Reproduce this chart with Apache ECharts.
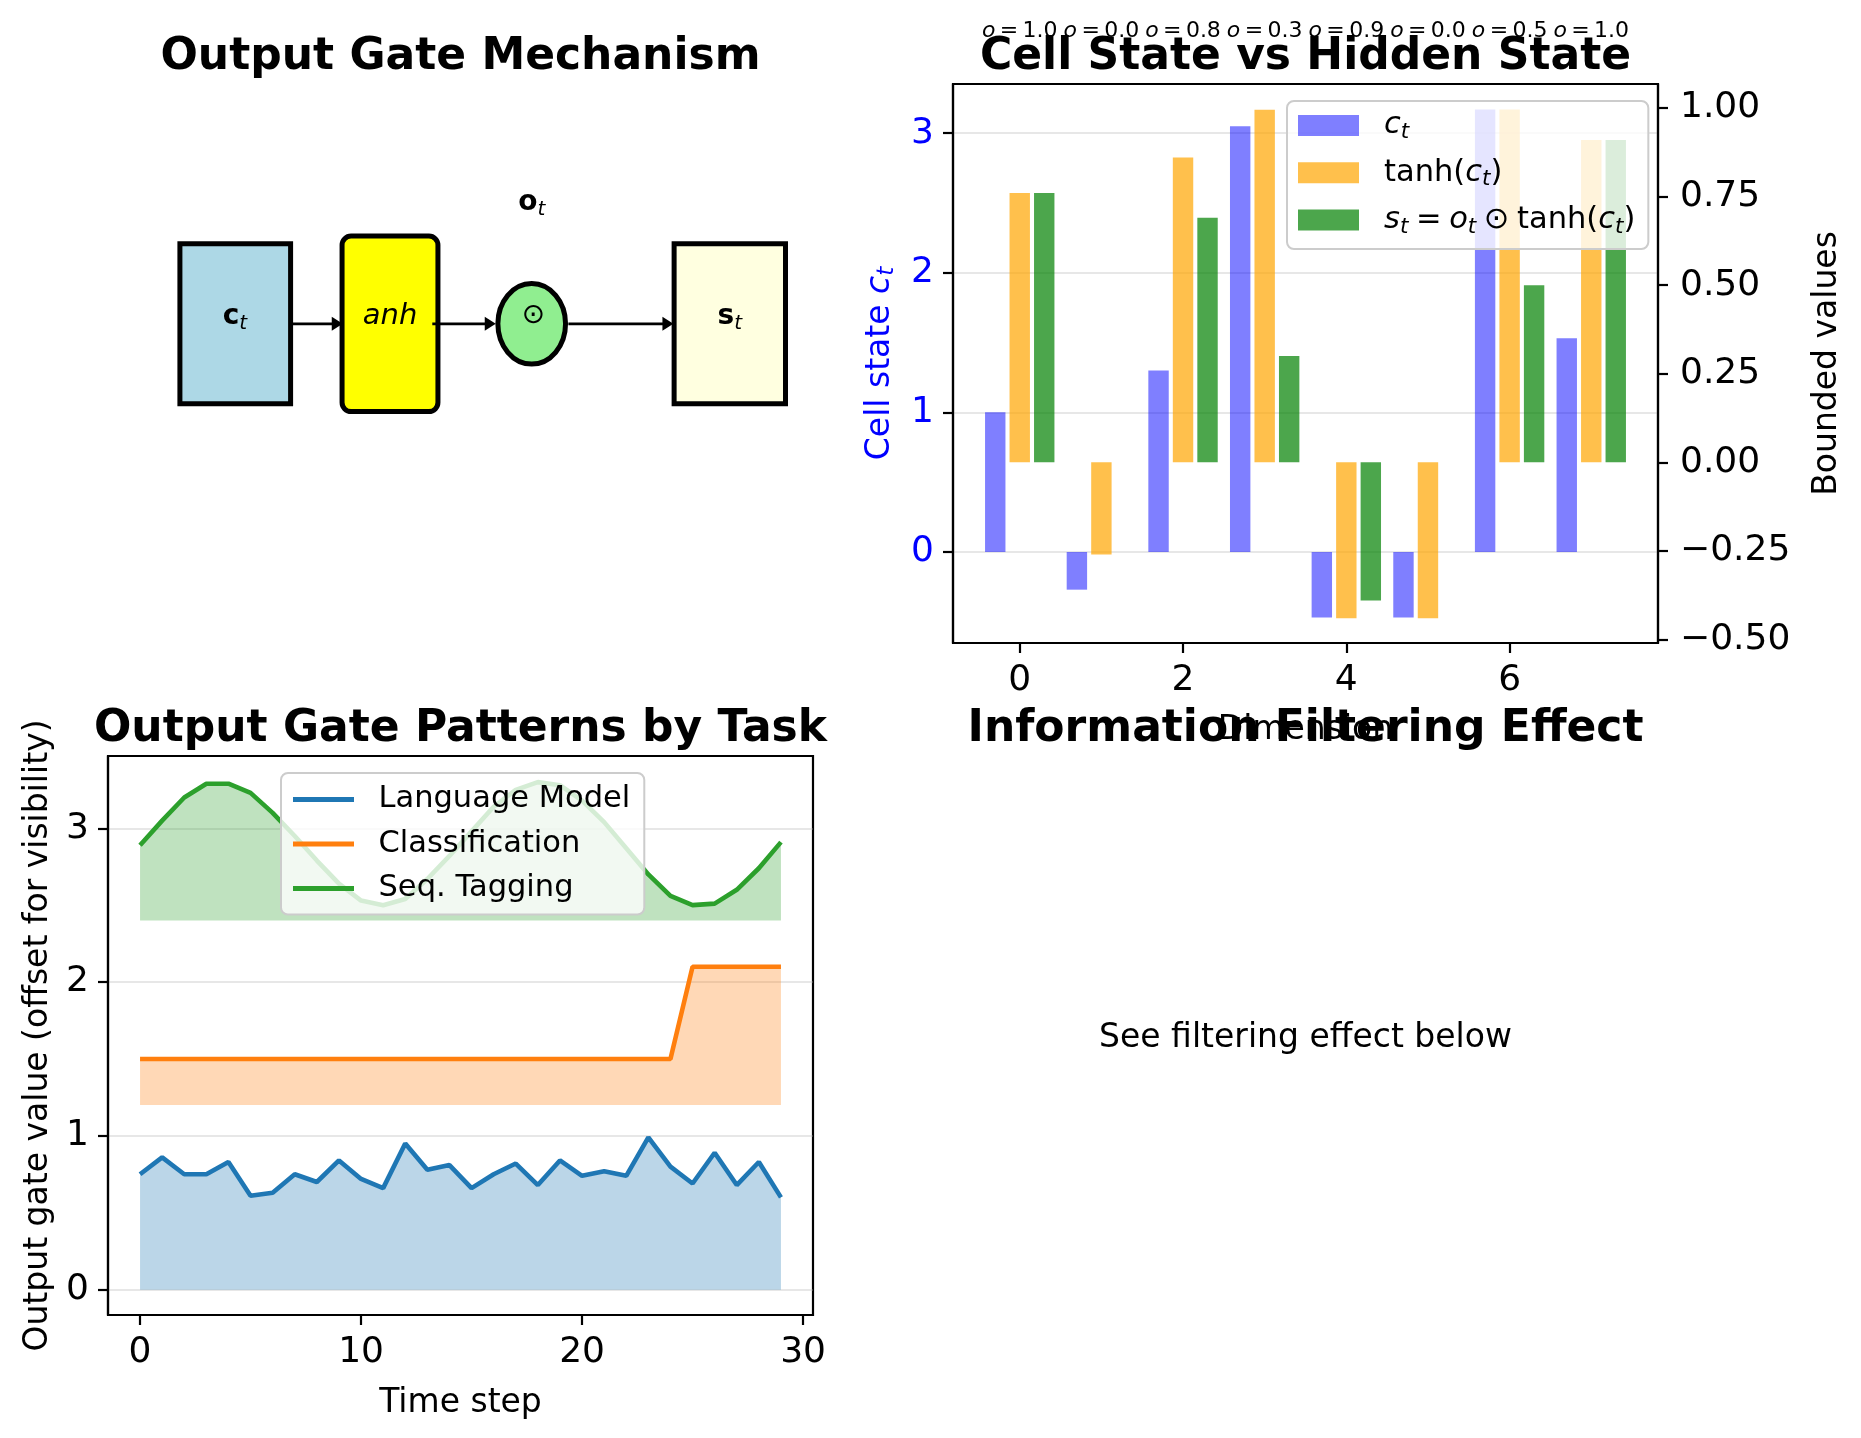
<!DOCTYPE html>
<html>
<head>
<meta charset="utf-8">
<script src="https://cdn.jsdelivr.net/npm/echarts@6/dist/echarts.min.js"></script>
<style>
html,body{margin:0;padding:0;background:#fff;}
#chart{width:1861px;height:1438px;}
</style>
</head>
<body>
<div id="chart"></div>
<script>
// ---------------- data ----------------
const dims = [0, 1, 2, 3, 4, 5, 6, 7];
const cellState = [1.00, -0.27, 1.30, 3.05, -0.47, -0.47, 3.17, 1.53];
const tanhCell = [0.76, -0.26, 0.86, 0.995, -0.44, -0.44, 0.996, 0.91];
const hiddenState = [0.76, 0.00, 0.69, 0.30, -0.39, 0.00, 0.50, 0.91];
const gateValues = [1.0, 0.0, 0.8, 0.3, 0.9, 0.0, 0.5, 1.0];

const timeSteps = [0,1,2,3,4,5,6,7,8,9,10,11,12,13,14,15,16,17,18,19,20,21,22,23,24,25,26,27,28,29];
const languageModel = [0.75,0.86,0.75,0.75,0.83,0.61,0.63,0.75,0.70,0.84,0.72,0.66,0.95,0.78,0.81,0.66,0.75,0.82,0.68,0.84,0.74,0.77,0.74,0.99,0.80,0.69,0.89,0.68,0.83,0.60];
const classification = [1.5,1.5,1.5,1.5,1.5,1.5,1.5,1.5,1.5,1.5,1.5,1.5,1.5,1.5,1.5,1.5,1.5,1.5,1.5,1.5,1.5,1.5,1.5,1.5,1.5,2.1,2.1,2.1,2.1,2.1];
const seqTagging = [2.89,3.05,3.20,3.29,3.29,3.23,3.10,2.95,2.79,2.64,2.53,2.50,2.54,2.67,2.82,2.98,3.14,3.25,3.30,3.28,3.18,3.04,2.87,2.70,2.56,2.50,2.51,2.60,2.74,2.91];
const fillBases = [0, 1.2, 2.4];

const dimTicks = [0, 2, 4, 6];
const cellTicks = [0, 1, 2, 3];
const boundTicks = [-0.5, -0.25, 0, 0.25, 0.5, 0.75, 1.0];
const timeTicks = [0, 10, 20, 30];
const gateTicks = [0, 1, 2, 3];

// ---------------- styling ----------------
const FONT = 'DejaVu Sans';
const GRIDLINE = 'rgba(176,176,176,0.3)';
const BAR_W = 0.25;
const LABEL_Y = 3.73;

function minusFmt(v, d) {
  const s = Math.abs(v).toFixed(d);
  return (v < -1e-9 ? '\u2212' : '') + s;
}

const subRich = (size, lh, sub, sublh, color) => ({
  i: {fontFamily: FONT, fontStyle: 'italic', fontSize: size, lineHeight: lh, color: color},
  s: {fontFamily: FONT, fontStyle: 'italic', fontSize: sub, lineHeight: sublh, verticalAlign: 'bottom', color: color}
});

function axisCommon(ticks, labelColor, fmt, margin) {
  return {
    axisLine: {show: true, onZero: false, lineStyle: {color: '#000', width: 2.2}},
    axisTick: {show: true, customValues: ticks, length: 10, inside: false, lineStyle: {color: '#000', width: 2.2}},
    axisLabel: {show: true, customValues: ticks, color: labelColor, fontSize: 36, fontFamily: FONT, margin: margin,
      formatter: fmt || (v => String(v))},
  };
}

// diagram layout (axes units 0..10 in both directions)
const DIAG = {
  ct: [1.02, 4.28, 2.59, 7.14],
  tanh: [3.32, 4.14, 4.68, 7.28],
  gate: [6.01, 5.71, 0.48, 0.72],
  st: [8.03, 4.28, 9.61, 7.14],
  arrowY: 5.71,
  arrows: [[2.59, 3.33], [4.60, 5.50], [6.53, 8.02]]
};

function renderDiagram(params, api) {
  const P = (x, y) => api.coord([x, y]);
  const box = (b, fill, r) => {
    const p0 = P(b[0], b[3]), p1 = P(b[2], b[1]);
    return {type: 'rect', shape: {x: p0[0], y: p0[1], width: p1[0] - p0[0], height: p1[1] - p0[1], r: r || 0},
      style: {fill: fill, stroke: '#000', lineWidth: 5}};
  };
  const kids = [];
  kids.push(box(DIAG.ct, '#add8e6'));
  kids.push(box(DIAG.tanh, '#ffff00', 9));
  const c = P(DIAG.gate[0], DIAG.gate[1]);
  const e = P(DIAG.gate[0] + DIAG.gate[2], DIAG.gate[1] + DIAG.gate[3]);
  kids.push({type: 'ellipse', shape: {cx: c[0], cy: c[1], rx: e[0] - c[0], ry: c[1] - e[1]},
    style: {fill: '#90ee90', stroke: '#000', lineWidth: 5}});
  kids.push(box(DIAG.st, '#ffffe0'));
  DIAG.arrows.forEach(function (ar) {
    const a = P(ar[0], DIAG.arrowY), b = P(ar[1], DIAG.arrowY);
    kids.push({type: 'line', shape: {x1: a[0], y1: a[1], x2: b[0] - 9, y2: b[1]}, style: {stroke: '#000', lineWidth: 2.8}});
    kids.push({type: 'polygon', shape: {points: [[b[0], b[1]], [b[0] - 11, b[1] - 7], [b[0] - 11, b[1] + 7]]}, style: {fill: '#000'}});
  });
  const rich = {
    b: {fontFamily: FONT, fontWeight: 'bold', fontSize: 28, lineHeight: 34, fill: '#000'},
    s: {fontFamily: FONT, fontStyle: 'italic', fontSize: 20, lineHeight: 17, verticalAlign: 'bottom', fill: '#000'},
    it: {fontFamily: FONT, fontStyle: 'italic', fontSize: 29, lineHeight: 34, fill: '#000'},
    n: {fontFamily: FONT, fontSize: 28, lineHeight: 34, fill: '#000'}
  };
  const txt = (x, y, text) => {
    const p = P(x, y);
    return {type: 'text', x: p[0], y: p[1], style: {text: text, rich: rich, align: 'center', verticalAlign: 'middle',
      fontFamily: FONT, fontSize: 28, fill: '#000'}};
  };
  kids.push(txt(1.80, 5.83, '{b|c}{s|t}'));
  kids.push(txt(4.00, 5.85, '{it|anh}'));
  kids.push(txt(6.03, 5.86, '{n|\u2299}'));
  kids.push(txt(8.82, 5.83, '{b|s}{s|t}'));
  kids.push(txt(6.01, 7.87, '{b|o}{s|t}'));
  return {type: 'group', children: kids};
}

function barRenderer(offset, color) {
  return function (params, api) {
    const x = api.value(0), v = api.value(1);
    const a = api.coord([x + offset - BAR_W / 2, v]);
    const b = api.coord([x + offset + BAR_W / 2, 0]);
    return {type: 'rect', shape: {x: a[0], y: Math.min(a[1], b[1]), width: b[0] - a[0], height: Math.abs(b[1] - a[1])},
      style: {fill: color}};
  };
}

const C_BLUE = 'rgba(0,0,255,0.5)';
const C_ORANGE = 'rgba(255,165,0,0.7)';
const C_GREEN = 'rgba(0,128,0,0.7)';

const SP = '\u2005';
const LEGEND_TR = {
  ct: '{i|c}{s|t}',
  tanh: 'tanh({i|c}{s|t})',
  st: '{i|s}{s|t}' + SP + '=' + SP + '{i|o}{s|t}' + SP + '\u2299' + SP + 'tanh({i|c}{s|t})'
};

const titleStyle = (x, y, text) => ({type: 'text', x: x, y: y, z: 10,
  style: {text: text, fontFamily: FONT, fontWeight: 'bold', fontSize: 44, fill: '#000', align: 'center', verticalAlign: 'middle'}});

const option = {
  animation: false,
  backgroundColor: '#ffffff',
  textStyle: {fontFamily: FONT},
  grid: [
    {left: 108, top: 84, width: 705, height: 559, show: false, containLabel: false, outerBoundsMode: 'none'},
    {left: 953, top: 84, width: 705, height: 559, show: true, borderColor: '#000', borderWidth: 2.2, backgroundColor: 'transparent', containLabel: false, outerBoundsMode: 'none'},
    {left: 108, top: 756, width: 705, height: 559, show: true, borderColor: '#000', borderWidth: 2.2, backgroundColor: 'transparent', containLabel: false, outerBoundsMode: 'none'}
  ],
  xAxis: [
    {gridIndex: 0, type: 'value', min: 0, max: 10, show: false},
    Object.assign({gridIndex: 1, type: 'value', min: -0.8175, max: 7.8175, splitLine: {show: false},
      name: 'Dimension', nameLocation: 'middle', nameGap: 71,
      nameTextStyle: {fontFamily: FONT, fontSize: 33, color: '#000'}}, axisCommon(dimTicks, '#000', null, 20)),
    Object.assign({gridIndex: 2, type: 'value', min: -1.45, max: 30.45, splitLine: {show: false},
      name: 'Time step', nameLocation: 'middle', nameGap: 72,
      nameTextStyle: {fontFamily: FONT, fontSize: 33, color: '#000'}}, axisCommon(timeTicks, '#000', null, 20))
  ],
  yAxis: [
    {gridIndex: 0, type: 'value', min: 0, max: 10, show: false},
    Object.assign({gridIndex: 1, type: 'value', position: 'left', min: -0.652, max: 3.352,
      splitLine: {show: true, lineStyle: {color: GRIDLINE, width: 2.2}},
      name: 'Cell state {i|c}{s|t}', nameLocation: 'middle', nameGap: 54, nameRotate: 90,
      nameTextStyle: {fontFamily: FONT, fontSize: 33, color: '#0000ff', lineHeight: 38, rich: subRich(33, 38, 23, 20, '#0000ff')}},
      axisCommon(cellTicks, '#0000ff', null, 19)),
    Object.assign({gridIndex: 1, type: 'value', position: 'right', min: -0.5097, max: 1.0677,
      splitLine: {show: false},
      name: 'Bounded values', nameLocation: 'middle', nameGap: 153, nameRotate: 90,
      nameTextStyle: {fontFamily: FONT, fontSize: 33, color: '#000'}},
      axisCommon(boundTicks, '#000', v => minusFmt(v, 2), 22)),
    Object.assign({gridIndex: 2, type: 'value', min: -0.165, max: 3.47,
      splitLine: {show: true, lineStyle: {color: GRIDLINE, width: 2.2}},
      name: 'Output gate value (offset for visibility)', nameLocation: 'middle', nameGap: 53, nameRotate: 90,
      nameTextStyle: {fontFamily: FONT, fontSize: 33, color: '#000'}},
      axisCommon(gateTicks, '#000', null, 19))
  ],
  legend: [
    {
      orient: 'vertical', left: 1287, top: 101, itemWidth: 61, itemHeight: 21, itemGap: 11.3,
      padding: [6.5, 13, 11, 11],
      backgroundColor: 'rgba(255,255,255,0.8)', borderColor: '#cccccc', borderWidth: 2, borderRadius: 7,
      selectedMode: false,
      data: [{name: 'ct', icon: 'rect'}, {name: 'tanh', icon: 'rect'}, {name: 'st', icon: 'rect'}],
      formatter: n => LEGEND_TR[n],
      itemStyle: {borderWidth: 0},
      textStyle: {fontFamily: FONT, fontSize: 30.5, color: '#000', lineHeight: 36, padding: [0, 0, 0, 20],
        rich: subRich(30.5, 36, 21.5, 18, '#000')}
    },
    {
      orient: 'vertical', left: 281, top: 773, itemWidth: 61, itemHeight: 5, itemGap: 10.5,
      padding: [9.5, 14, 9, 12],
      backgroundColor: 'rgba(255,255,255,0.8)', borderColor: '#cccccc', borderWidth: 2, borderRadius: 7,
      selectedMode: false,
      data: [{name: 'Language Model', icon: 'rect'}, {name: 'Classification', icon: 'rect'}, {name: 'Seq. Tagging', icon: 'rect'}],
      itemStyle: {borderWidth: 0},
      textStyle: {fontFamily: FONT, fontSize: 30.5, color: '#000', lineHeight: 34, padding: [0, 0, 0, 19.5]}
    }
  ],
  graphic: [
    titleStyle(460.5, 58, 'Output Gate Mechanism'),
    titleStyle(1305.5, 58, 'Cell State vs Hidden State'),
    titleStyle(460.5, 730, 'Output Gate Patterns by Task'),
    titleStyle(1305.5, 730, 'Information Filtering Effect'),
    {type: 'text', x: 1305.5, y: 1038, style: {text: 'See filtering effect below', fontFamily: FONT, fontSize: 33,
      fill: '#000', align: 'center', verticalAlign: 'middle'}}
  ],
  series: [
    {type: 'custom', name: 'diagram', xAxisIndex: 0, yAxisIndex: 0, data: [[0, 0]], renderItem: renderDiagram, silent: true},
    {type: 'custom', name: 'ct', xAxisIndex: 1, yAxisIndex: 1, itemStyle: {color: C_BLUE},
      data: dims.map((d, i) => [d, cellState[i]]), encode: {x: 0, y: 1}, renderItem: barRenderer(-0.3, C_BLUE)},
    {type: 'custom', name: 'tanh', xAxisIndex: 1, yAxisIndex: 2, itemStyle: {color: C_ORANGE},
      data: dims.map((d, i) => [d, tanhCell[i]]), encode: {x: 0, y: 1}, renderItem: barRenderer(0, C_ORANGE)},
    {type: 'custom', name: 'st', xAxisIndex: 1, yAxisIndex: 2, itemStyle: {color: C_GREEN},
      data: dims.map((d, i) => [d, hiddenState[i]]), encode: {x: 0, y: 1}, renderItem: barRenderer(0.3, C_GREEN)},
    {type: 'custom', name: 'gateLabels', xAxisIndex: 1, yAxisIndex: 1, silent: true, clip: false,
      data: dims.map((d, i) => [d, gateValues[i]]),
      renderItem: function (params, api) {
        const p = api.coord([api.value(0), LABEL_Y]);
        return {type: 'text', x: p[0], y: p[1], style: {
          text: '{i|o}\u2009=\u2009' + api.value(1).toFixed(1),
          rich: {i: {fontFamily: FONT, fontStyle: 'italic', fontSize: 22, fill: '#000'}},
          fontFamily: FONT, fontSize: 22, fill: '#000', align: 'center', verticalAlign: 'middle'}};
      }},
    {type: 'line', name: 'Language Model', xAxisIndex: 2, yAxisIndex: 3, symbol: 'none', showSymbol: false,
      data: timeSteps.map((t, i) => [t, languageModel[i]]), itemStyle: {color: '#1f77b4'},
      lineStyle: {color: '#1f77b4', width: 4.6}, areaStyle: {color: 'rgba(31,119,180,0.3)', opacity: 1, origin: fillBases[0]}},
    {type: 'line', name: 'Classification', xAxisIndex: 2, yAxisIndex: 3, symbol: 'none', showSymbol: false,
      data: timeSteps.map((t, i) => [t, classification[i]]), itemStyle: {color: '#ff7f0e'},
      lineStyle: {color: '#ff7f0e', width: 4.6}, areaStyle: {color: 'rgba(255,127,14,0.3)', opacity: 1, origin: fillBases[1]}},
    {type: 'line', name: 'Seq. Tagging', xAxisIndex: 2, yAxisIndex: 3, symbol: 'none', showSymbol: false,
      data: timeSteps.map((t, i) => [t, seqTagging[i]]), itemStyle: {color: '#2ca02c'},
      lineStyle: {color: '#2ca02c', width: 4.6}, areaStyle: {color: 'rgba(44,160,44,0.3)', opacity: 1, origin: fillBases[2]}}
  ]
};

const chart = echarts.init(document.getElementById('chart'), null, {renderer: 'canvas', width: 1861, height: 1438});
chart.setOption(option);
</script>
</body>
</html>
